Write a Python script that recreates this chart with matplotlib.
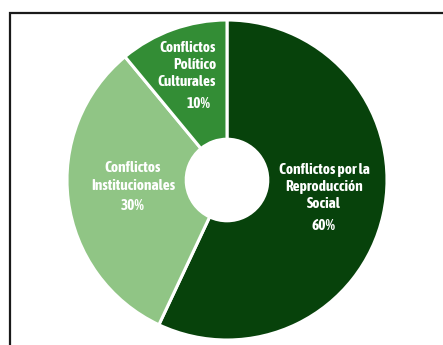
import matplotlib
matplotlib.use("Agg")
import matplotlib.pyplot as plt
from matplotlib.patches import Rectangle

categories = ["Conflictos por la\nReproducción\nSocial", "Conflictos\nInstitucionales", "Conflictos\nPolítico\nCulturales"]
values = [57, 32, 11]
pct_labels = ["60%", "30%", "10%"]
colors = ["#07420b", "#90c585", "#338d35"]

W, H = 443, 345
fig = plt.figure(figsize=(W/100, H/100), dpi=100)
fig.patch.set_facecolor("white")

# frame
fig.add_artist(Rectangle((10/W, -0.05), 1.2, (H-13)/H + 0.05, transform=fig.transFigure,
                         fill=False, edgecolor="#1a1a1a", linewidth=1.6))

cx, cy, r = 227, 180, 160
ax = fig.add_axes([(cx-r)/W, (H-cy-r)/H, 2*r/W, 2*r/H])
ax.pie(values, colors=colors, startangle=90, counterclock=False, radius=1.0,
       wedgeprops=dict(width=0.745, edgecolor="white", linewidth=2.2))
ax.set_xlim(-1, 1); ax.set_ylim(-1, 1)
ax.set_aspect("equal")
ax.axis("off")

fam = ["Asap Condensed", "DejaVu Sans"]
kw = dict(color="white", fontweight="bold", family=fam, fontsize=11, linespacing=1.28)

def px(x, y):
    return ((x - cx)/r, (cy - y)/r)

x, y = px(324, 187)
ax.text(x, y, categories[0], ha="center", va="center", multialignment="center", **kw)
x, y = px(324, 226)
ax.text(x, y, pct_labels[0], ha="center", va="center", **kw)

x, y = px(133, 177)
ax.text(x, y, categories[1], ha="center", va="center", multialignment="center", **kw)
x, y = px(133, 206)
ax.text(x, y, pct_labels[1], ha="center", va="center", **kw)

x, y = px(216, 65)
ax.text(x, y, categories[2], ha="right", va="center", multialignment="right", **kw)
x, y = px(199, 104)
ax.text(x, y, pct_labels[2], ha="center", va="center", **kw)

fig.savefig("out.png", dpi=100)
